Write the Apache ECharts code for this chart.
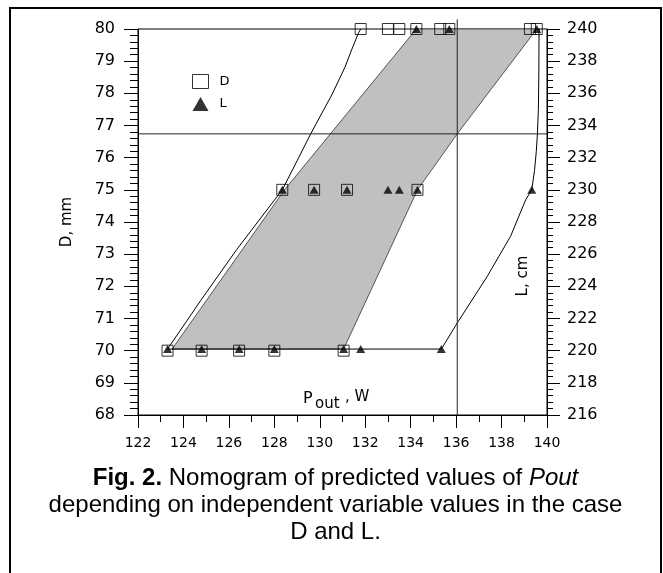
<!DOCTYPE html>
<html>
<head>
<meta charset="utf-8">
<script src="https://cdn.jsdelivr.net/npm/echarts@6/dist/echarts.min.js"></script>
<style>
html, body { margin: 0; padding: 0; background: #fff; }
#chart { width: 663px; height: 573px; }
</style>
</head>
<body>
<div id="chart"></div>
<script>
// axis ranges
var pRange = [122, 140];
var dRange = [68, 80];
var lRange = [216, 240];

// square markers (D) and triangle markers (L), Pout values at each D level
var squaresAt80 = [131.8, 133.0, 133.5, 134.25, 135.3, 135.7, 139.25, 139.55];
var squaresAt75 = [128.35, 129.75, 131.2, 134.3];
var squaresAt70 = [123.3, 124.8, 126.45, 128.0, 131.05];
var trianglesAt80 = [134.25, 135.7, 139.55];
var trianglesAt75 = [128.35, 129.75, 131.2, 133.0, 133.5, 134.3, 139.33];
var trianglesAt70 = [123.3, 124.8, 126.45, 128.0, 131.05, 131.8, 135.35];

// curves [Pout, D]
var curveD = [[123.3, 70.05], [124.8, 71.6], [126.35, 73.15], [128.35, 75], [129.0, 75.9], [129.6, 76.74],
    [130.55, 77.98], [131.1, 78.8], [131.4, 79.35], [131.7, 79.87], [131.8, 80]];
var curveL = [[135.35, 70.05], [136.05, 70.86], [137.37, 72.31], [138.4, 73.56], [139.06, 74.69], [139.33, 75],
    [139.45, 75.6], [139.53, 76.2], [139.58, 76.76], [139.62, 77.5], [139.64, 78.5], [139.65, 80]];
var baseLine = [[123.3, 70.05], [135.35, 70.05]];
var shadeOutline = [[123.5, 70.05], [128.45, 75], [134.25, 80], [139.55, 80], [136.05, 76.74], [134.3, 75], [131.05, 70.05]];

// predicted point
var predP = 136.05;
var predD = 76.74;

function atLevel(xs, d) {
    return xs.map(function (x) { return [x, d]; });
}

var chart = echarts.init(document.getElementById('chart'));

var tickFont = 'DejaVu Sans';

var option = {
    animation: false,
    backgroundColor: '#fff',
    grid: {
        left: 138,
        right: 116,
        top: 29,
        bottom: 158,
        show: true,
        borderColor: '#000',
        borderWidth: 1,
        backgroundColor: 'transparent'
    },
    legend: {
        orient: 'vertical',
        left: 187,
        top: 69,
        itemWidth: 16,
        itemHeight: 14,
        itemGap: 8,
        textStyle: { fontFamily: tickFont, fontSize: 13, color: '#000', padding: [0, 0, 0, 6] },
        data: [
            { name: 'D', icon: 'rect', itemStyle: { color: '#fff', borderColor: '#000', borderWidth: 1 } },
            { name: 'L', icon: 'triangle', itemStyle: { color: '#000', borderWidth: 0 } }
        ]
    },
    xAxis: {
        type: 'value',
        min: pRange[0],
        max: pRange[1],
        interval: 2,
        splitLine: { show: false },
        axisLine: { lineStyle: { color: '#000', width: 1 } },
        axisTick: { length: 13, lineStyle: { color: '#000' } },
        minorTick: { show: true, splitNumber: 2, length: 7, lineStyle: { color: '#000' } },
        axisLabel: { color: '#000', fontFamily: tickFont, fontSize: 14, margin: 21 }
    },
    yAxis: [{
        type: 'value',
        min: dRange[0],
        max: dRange[1],
        interval: 1,
        splitLine: { show: false },
        axisLine: { show: true, lineStyle: { color: '#000', width: 1 } },
        axisTick: { show: true, length: 14, lineStyle: { color: '#000' } },
        minorTick: { show: true, splitNumber: 5, length: 8, lineStyle: { color: '#000' } },
        axisLabel: { color: '#000', fontFamily: tickFont, fontSize: 16, margin: 23 }
    }, {
        type: 'value',
        position: 'right',
        min: lRange[0],
        max: lRange[1],
        interval: 2,
        splitLine: { show: false },
        axisLine: { show: true, lineStyle: { color: '#000', width: 1 } },
        axisTick: { show: true, length: 13, lineStyle: { color: '#000' } },
        minorTick: { show: true, splitNumber: 5, length: 6, lineStyle: { color: '#000' } },
        axisLabel: { color: '#000', fontFamily: tickFont, fontSize: 16, margin: 20 }
    }],
    series: [
        {
            // shaded region
            type: 'custom',
            silent: true,
            z: 1,
            data: [[pRange[0], dRange[0]]],
            renderItem: function (params, api) {
                var pts = shadeOutline.map(function (p) { return api.coord(p); });
                return {
                    type: 'polygon',
                    shape: { points: pts },
                    style: { fill: '#c0c0c0', stroke: '#555', lineWidth: 1 }
                };
            }
        },
        {
            type: 'line', z: 3, showSymbol: false, silent: true,
            lineStyle: { color: '#000', width: 1 },
            data: curveD
        },
        {
            type: 'line', z: 3, showSymbol: false, silent: true,
            lineStyle: { color: '#000', width: 1 },
            data: curveL
        },
        {
            type: 'line', z: 3, showSymbol: false, silent: true,
            lineStyle: { color: '#000', width: 1 },
            data: baseLine
        },
        {
            // horizontal cross line
            type: 'line', z: 3, showSymbol: false, silent: true,
            lineStyle: { color: '#222', width: 1 },
            data: [[pRange[0], predD], [pRange[1], predD]]
        },
        {
            // vertical cross line
            type: 'line', z: 3, showSymbol: false, silent: true, clip: false,
            lineStyle: { color: '#222', width: 1 },
            data: [[predP, dRange[0]], [predP, 80.3]]
        },
        {
            name: 'D',
            type: 'scatter', z: 4, silent: true,
            symbol: 'rect',
            symbolSize: 11,
            itemStyle: { color: 'rgba(255,255,255,0)', borderColor: '#000', borderWidth: 1 },
            data: atLevel(squaresAt80, 80).concat(atLevel(squaresAt75, 75), atLevel(squaresAt70, 70))
        },
        {
            name: 'L',
            type: 'scatter', z: 5, silent: true,
            symbol: 'triangle',
            symbolSize: [9, 8],
            itemStyle: { color: '#000' },
            data: atLevel(trianglesAt80, 80).concat(atLevel(trianglesAt75, 75), atLevel(trianglesAt70, 70.05))
        }
    ],
    graphic: [
        {
            type: 'rect',
            shape: { x: 10, y: 8, width: 651, height: 570 },
            style: { fill: 'none', stroke: '#000', lineWidth: 2 },
            silent: true
        },
        {
            type: 'text', x: 67, y: 222, rotation: Math.PI / 2,
            style: { text: 'D, mm', fill: '#000', fontFamily: tickFont, fontSize: 15, align: 'center', verticalAlign: 'middle' }
        },
        {
            type: 'text', x: 523, y: 276, rotation: Math.PI / 2,
            style: { text: 'L, cm', fill: '#000', fontFamily: tickFont, fontSize: 15, align: 'center', verticalAlign: 'middle' }
        },
        {
            type: 'text', x: 303, y: 407,
            style: { text: 'P', fill: '#000', fontFamily: tickFont, fontSize: 16, align: 'left', verticalAlign: 'bottom' }
        },
        {
            type: 'text', x: 315, y: 412,
            style: { text: 'out', fill: '#000', fontFamily: tickFont, fontSize: 15, align: 'left', verticalAlign: 'bottom' }
        },
        {
            type: 'text', x: 345, y: 405,
            style: { text: ', W', fill: '#000', fontFamily: tickFont, fontSize: 15, align: 'left', verticalAlign: 'bottom' }
        },
        {
            type: 'text', x: 335.5, y: 505,
            style: {
                text: '{b|Fig. 2.} Nomogram of predicted values of {i|Pout}\ndepending on independent variable values in the case\nD and L.',
                fill: '#000',
                fontFamily: 'Liberation Sans',
                fontSize: 24,
                lineHeight: 27,
                align: 'center',
                verticalAlign: 'middle',
                rich: {
                    b: { fontWeight: 'bold', fontFamily: 'Liberation Sans', fontSize: 24, lineHeight: 27 },
                    i: { fontStyle: 'italic', fontFamily: 'Liberation Sans', fontSize: 24, lineHeight: 27 }
                }
            }
        }
    ]
};

chart.setOption(option);
</script>
</body>
</html>
